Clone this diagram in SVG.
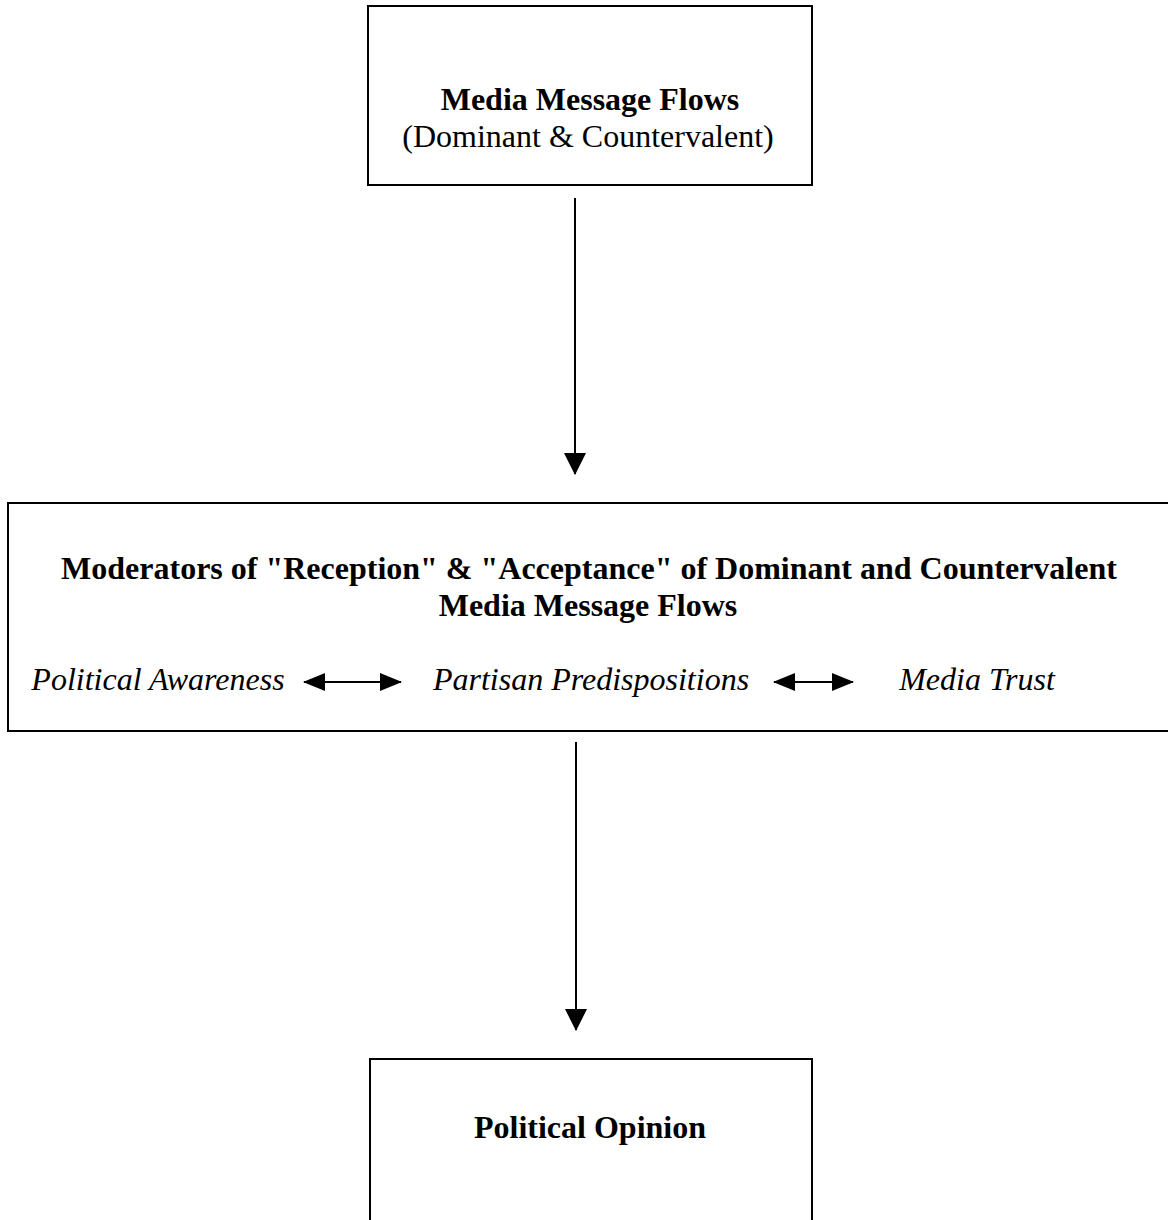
<svg xmlns="http://www.w3.org/2000/svg" width="1168" height="1220" viewBox="0 0 1168 1220">
<defs>
<style>
.box{fill:#fff;stroke:#000;stroke-width:2}
.t{font-family:"Liberation Serif","Times New Roman",serif;font-size:32px;fill:#000;text-anchor:middle}
.b{font-weight:bold}
.i{font-style:italic}
.ln{stroke:#000;stroke-width:2;fill:none}
</style>
<marker id="ah" viewBox="0 0 22 22" refX="21" refY="11" markerWidth="22" markerHeight="22" markerUnits="userSpaceOnUse" orient="auto-start-reverse">
<path d="M0,0 L22,11 L0,22 Z" fill="#000"/>
</marker>
<marker id="sh" viewBox="0 0 22 18" refX="21" refY="9" markerWidth="22" markerHeight="18" markerUnits="userSpaceOnUse" orient="auto-start-reverse">
<path d="M0,0 L22,9 L0,18 Z" fill="#000"/>
</marker>
</defs>
<rect width="1168" height="1220" fill="#fff"/>
<g id="node-media">
<rect class="box" x="368" y="6" width="444" height="179"/>
<text class="t b" x="590" y="110">Media Message Flows</text>
<text class="t" x="588" y="147">(Dominant &amp; Countervalent)</text>
</g>
<g id="node-moderators">
<rect class="box" x="8" y="503" width="1170" height="228"/>
<text class="t b" x="589" y="579">Moderators of "Reception" &amp; "Acceptance" of Dominant and Countervalent</text>
<text class="t b" x="588" y="616">Media Message Flows</text>
<text class="t i" x="158" y="690">Political Awareness</text>
<text class="t i" x="591" y="690">Partisan Predispositions</text>
<text class="t i" x="977" y="690">Media Trust</text>
</g>
<g id="node-opinion">
<rect class="box" x="370" y="1059" width="442" height="180"/>
<text class="t b" x="590" y="1138">Political Opinion</text>
</g>
<g id="connectors">
<line class="ln" x1="575" y1="198" x2="575" y2="474" marker-end="url(#ah)"/>
<line class="ln" x1="576" y1="742" x2="576" y2="1030" marker-end="url(#ah)"/>
<line class="ln" x1="304" y1="682" x2="401" y2="682" marker-start="url(#sh)" marker-end="url(#sh)"/>
<line class="ln" x1="774" y1="682" x2="853" y2="682" marker-start="url(#sh)" marker-end="url(#sh)"/>
</g>
</svg>
